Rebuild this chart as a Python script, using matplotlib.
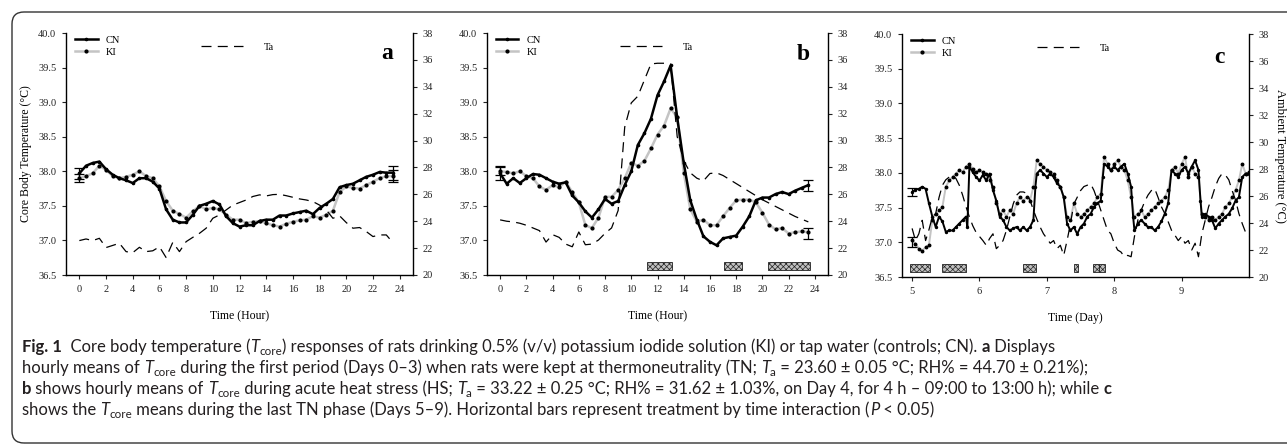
import numpy as np
import matplotlib
matplotlib.use('Agg')
import matplotlib.pyplot as plt
from matplotlib.lines import Line2D
from matplotlib.patches import FancyBboxPatch
from matplotlib.transforms import IdentityTransform
from matplotlib import font_manager

# ---------------- data ----------------
hours = np.arange(0, 24, 0.5)

cn_a = [37.97, 38.08, 38.12, 38.14, 38.03, 37.95, 37.90, 37.87, 37.83, 37.90, 37.90, 37.85,
        37.75, 37.45, 37.30, 37.26, 37.26, 37.37, 37.50, 37.53, 37.57, 37.52, 37.35, 37.25,
        37.20, 37.22, 37.22, 37.28, 37.30, 37.30, 37.36, 37.36, 37.39, 37.41, 37.43, 37.38,
        37.47, 37.53, 37.60, 37.77, 37.80, 37.82, 37.87, 37.92, 37.95, 37.99, 37.98, 37.98]
ki_a = [37.90, 37.93, 37.97, 38.08, 38.02, 37.93, 37.90, 37.92, 37.95, 38.00, 37.93, 37.90,
        37.78, 37.57, 37.43, 37.38, 37.33, 37.42, 37.50, 37.45, 37.47, 37.45, 37.37, 37.30,
        37.30, 37.25, 37.27, 37.28, 37.25, 37.22, 37.20, 37.24, 37.27, 37.29, 37.30, 37.35,
        37.33, 37.37, 37.43, 37.70, 37.78, 37.76, 37.75, 37.80, 37.85, 37.90, 37.93, 37.93]
ta_a = [22.56, 22.68, 22.56, 22.73, 22.04, 22.20, 22.36, 21.74, 21.66, 22.06, 21.74, 21.80,
        22.10, 21.30, 22.43, 21.74, 22.48, 22.80, 23.10, 23.48, 24.22, 24.47, 24.84, 25.20,
        25.39, 25.58, 25.84, 25.96, 25.88, 25.98, 26.00, 25.90, 25.78, 25.66, 25.58, 25.46,
        25.20, 24.84, 24.22, 24.40, 23.90, 23.48, 23.53, 23.23, 22.86, 22.98, 22.98, 22.40]

cn_b = [37.97, 37.82, 37.90, 37.83, 37.90, 37.96, 37.95, 37.90, 37.85, 37.82, 37.84, 37.65,
        37.55, 37.42, 37.33, 37.45, 37.60, 37.53, 37.57, 37.80, 38.00, 38.38, 38.55, 38.76,
        39.10, 39.30, 39.53, 38.78, 38.12, 37.58, 37.30, 37.06, 36.98, 36.93, 37.03, 37.05,
        37.07, 37.20, 37.35, 37.58, 37.62, 37.62, 37.67, 37.70, 37.67, 37.72, 37.76, 37.80]
ki_b = [38.00, 37.99, 37.97, 38.00, 37.93, 37.90, 37.78, 37.73, 37.80, 37.77, 37.85, 37.70,
        37.55, 37.22, 37.18, 37.33, 37.63, 37.63, 37.73, 37.90, 38.12, 38.08, 38.15, 38.33,
        38.53, 38.66, 38.91, 38.78, 37.98, 37.45, 37.27, 37.30, 37.22, 37.22, 37.35, 37.47,
        37.58, 37.59, 37.59, 37.55, 37.40, 37.23, 37.16, 37.18, 37.10, 37.12, 37.13, 37.12]
ta_b = [24.10, 24.00, 23.95, 23.85, 23.70, 23.50, 23.30, 22.45, 23.00, 22.80, 22.30, 22.10,
        23.20, 22.25, 22.30, 22.60, 23.10, 23.50, 24.80, 31.00, 32.80, 33.30, 34.50, 35.70,
        35.75, 35.75, 35.70, 30.30, 28.50, 27.60, 27.20, 27.00, 27.55, 27.60, 27.40, 27.10,
        26.80, 26.50, 26.20, 25.90, 25.60, 25.35, 25.10, 24.85, 24.60, 24.35, 24.15, 23.95]

days_cn_c = [5.00, 5.05, 5.10, 5.15, 5.20, 5.25, 5.30, 5.35, 5.40, 5.45, 5.50, 5.55, 5.60, 5.65,
             5.70, 5.75, 5.80, 5.82, 5.85, 5.90, 5.95,
             6.00, 6.05, 6.10, 6.15, 6.20, 6.25, 6.30, 6.35, 6.40, 6.45, 6.50, 6.55, 6.60, 6.65,
             6.70, 6.75, 6.80, 6.83, 6.85, 6.90, 6.95,
             7.00, 7.05, 7.10, 7.15, 7.20, 7.25, 7.30, 7.35, 7.40, 7.45, 7.50, 7.55, 7.60, 7.65,
             7.70, 7.75, 7.80, 7.83, 7.85, 7.90, 7.95,
             8.00, 8.05, 8.10, 8.15, 8.20, 8.25, 8.28, 8.30, 8.35, 8.40, 8.45, 8.50, 8.55, 8.60,
             8.65, 8.70, 8.75, 8.80, 8.85, 8.90, 8.95,
             9.00, 9.05, 9.10, 9.15, 9.20, 9.25, 9.28, 9.30, 9.35, 9.40, 9.45, 9.50, 9.55, 9.60,
             9.65, 9.70, 9.75, 9.80, 9.85, 9.90, 9.95, 10.00]
cn_c = [37.72, 37.76, 37.77, 37.80, 37.77, 37.56, 37.37, 37.22, 37.37, 37.30, 37.15, 37.17, 37.17, 37.22,
        37.27, 37.32, 37.37, 37.22, 38.09, 38.01, 37.94,
        37.89, 37.97, 37.89, 37.99, 37.75, 37.60, 37.37, 37.32, 37.22, 37.17, 37.20, 37.22, 37.17, 37.22,
        37.17, 37.22, 37.32, 37.80, 37.99, 38.04, 37.99,
        37.94, 37.99, 37.94, 37.85, 37.80, 37.65, 37.27, 37.17, 37.22, 37.12, 37.22, 37.27, 37.37, 37.41,
        37.51, 37.56, 37.60, 37.94, 38.13, 38.09, 38.04,
        38.09, 38.04, 38.09, 38.13, 37.99, 37.80, 37.37, 37.17, 37.27, 37.32, 37.27, 37.22, 37.22, 37.17,
        37.22, 37.30, 37.41, 37.56, 38.04, 37.99, 37.94,
        38.04, 38.09, 37.99, 38.09, 38.18, 38.04, 37.60, 37.37, 37.41, 37.37, 37.32, 37.20, 37.27, 37.32,
        37.37, 37.41, 37.49, 37.60, 37.65, 37.94, 37.99, 37.99]

days_c = np.round(np.arange(5.0, 10.0001, 0.05), 2)
ki_c = [37.03, 36.98, 36.91, 36.88, 36.93, 36.96, 37.32, 37.41, 37.46, 37.51, 37.80, 37.89, 37.94, 37.99, 38.04, 38.01, 38.09, 38.13, 38.06, 38.01,
        38.04, 38.01, 37.99, 37.89, 37.80, 37.56, 37.41, 37.46, 37.37, 37.46, 37.41, 37.56, 37.65, 37.60, 37.65, 37.60, 37.80, 38.18, 38.13, 38.09,
        38.04, 38.01, 37.99, 37.89, 37.80, 37.65, 37.37, 37.32, 37.56, 37.41, 37.37, 37.41, 37.46, 37.51, 37.56, 37.65, 37.70, 38.23, 38.13, 38.04,
        38.13, 38.18, 38.09, 38.04, 37.89, 37.65, 37.37, 37.41, 37.46, 37.37, 37.41, 37.46, 37.51, 37.56, 37.60, 37.65, 37.75, 38.04, 38.09, 37.99,
        38.13, 38.23, 37.94, 38.09, 37.99, 37.94, 37.41, 37.37, 37.32, 37.37, 37.32, 37.37, 37.41, 37.51, 37.56, 37.65, 37.75, 37.89, 38.13, 37.99,
        38.01]
ta_c = [23.60, 22.70, 23.20, 24.20, 22.70, 23.50, 24.45, 24.70, 25.90, 26.80, 27.20, 27.40, 27.50, 27.30, 26.80, 26.06, 25.20, 24.45, 23.80, 23.30,
        23.00, 22.70, 22.35, 22.85, 23.20, 22.10, 22.35, 22.70, 23.46, 24.45, 25.40, 26.06, 26.30, 26.30, 26.20, 25.70, 24.95, 24.30, 23.70, 23.20,
        22.85, 22.50, 22.70, 22.10, 22.35, 21.60, 22.70, 23.95, 25.40, 25.90, 26.40, 26.70, 26.80, 26.90, 26.40, 25.70, 24.95, 24.20, 23.46, 23.20,
        22.50, 22.00, 21.85, 21.50, 21.60, 21.50, 23.00, 24.20, 24.95, 25.56, 26.06, 26.40, 26.55, 25.90, 25.20, 24.70, 24.10, 23.46, 23.10, 22.70,
        23.00, 22.50, 22.70, 22.00, 22.50, 21.50, 23.20, 24.20, 25.20, 25.90, 26.70, 27.30, 27.66, 27.55, 27.20, 26.40, 25.70, 24.70, 23.95, 23.30,
        23.00]

# error bars (x, mean, sem)
err_a = dict(x=[0, 0, 23.5, 23.5], y=[37.97, 37.90, 37.98, 37.93], e=[0.08, 0.06, 0.10, 0.09])
err_b = dict(x=[0, 0, 23.5, 23.5], y=[37.97, 38.00, 37.80, 37.10], e=[0.10, 0.06, 0.08, 0.08])
err_c = dict(x=[5.0, 5.0], y=[37.72, 37.00], e=[0.06, 0.07])

# significance bars (start, end)
sig_b = [(11.23, 13.10), (17.06, 18.47), (20.45, 23.60)]
sig_c = [(4.97, 5.26), (5.44, 5.80), (6.64, 6.84), (7.41, 7.46), (7.69, 7.77), (7.78, 7.86)]

left_ticks = [36.5, 37.0, 37.5, 38.0, 38.5, 39.0, 39.5, 40.0]
right_ticks = [20, 22, 24, 26, 28, 30, 32, 34, 36, 38]

# ---------------- figure ----------------
W, H = 1287, 444
serif = ['Liberation Serif', 'DejaVu Serif']
plt.rcParams['font.family'] = serif
plt.rcParams['hatch.linewidth'] = 0.5
fig = plt.figure(figsize=(W / 100, H / 100), dpi=100)

names = {f.name for f in font_manager.fontManager.ttflist}
cap_font = None
for cand in ['Liberation Sans Narrow', 'Lato', 'Roboto', 'DejaVu Sans']:
    if cand in names:
        cap_font = cand
        break

CN_COLOR = 'black'
KI_COLOR = '#c4c4c4'
TICK_FS = 7.5


def make_panel(rect, x, cn, ki, ta, err, sig, xlim, xticks, xlabel, letter, letter_pos,
               x_cn=None, lw=1.8, ms=2.0):
    ax = fig.add_axes(rect)
    if x_cn is None:
        x_cn = x
    ax.plot(x, ki, color=KI_COLOR, lw=lw, marker='o', ms=ms, mfc='black', mec='black', zorder=3)
    ax.plot(x_cn, cn, color=CN_COLOR, lw=lw, marker='o', ms=ms * 0.8, zorder=4)
    ax.errorbar(err['x'], err['y'], yerr=err['e'], fmt='none', ecolor='black',
                elinewidth=0.9, capsize=3.5, capthick=0.9, zorder=5)
    if sig:
        starts = [s for s, e in sig]
        widths = [e - s for s, e in sig]
        ax.bar(starts, [0.11] * len(sig), width=widths, bottom=36.575, align='edge',
               facecolor='#c0c0c0', edgecolor='#222222', hatch='xxxxxx', lw=0.6, zorder=2)
    ax.set_xlim(*xlim)
    ax.set_ylim(36.5, 40.0)
    ax.set_xticks(xticks)
    ax.set_yticks(left_ticks)
    ax.set_yticklabels([f'{v:.1f}' for v in left_ticks])
    ax.set_xlabel(xlabel, fontsize=8.5, labelpad=12)
    for s in ['top', 'right']:
        ax.spines[s].set_visible(False)
    for s in ['left', 'bottom']:
        ax.spines[s].set_linewidth(1.0)
    ax.tick_params(direction='out', length=3, width=0.8, labelsize=TICK_FS, pad=4, colors='#222222')

    ax2 = ax.twinx()
    ax2.plot(x, ta, color='black', lw=0.9, ls=(0, (8, 5)), zorder=2)
    ax2.set_ylim(20, 38)
    ax2.set_yticks(right_ticks)
    for s in ['top', 'left', 'bottom']:
        ax2.spines[s].set_visible(False)
    ax2.spines['right'].set_linewidth(1.0)
    ax2.tick_params(direction='out', length=3, width=0.8, labelsize=TICK_FS, pad=4, colors='#222222')

    h_cn = Line2D([], [], color=CN_COLOR, lw=1.8, marker='o', ms=1.6)
    h_ki = Line2D([], [], color=KI_COLOR, lw=1.8, marker='o', ms=2.0, mfc='black', mec='black')
    leg = ax2.legend([h_cn, h_ki], ['CN', 'KI'], loc='upper left', bbox_to_anchor=(0.025, 0.99),
                     frameon=False, fontsize=7.5, handlelength=2.2, labelspacing=0.3,
                     handletextpad=0.8, borderaxespad=0, borderpad=0)
    ax2.add_artist(leg)
    h_ta = Line2D([], [], color='black', lw=0.9, ls=(0, (8, 5)))
    ax2.legend([h_ta], ['Ta'], loc='upper left', bbox_to_anchor=(0.39, 0.96), frameon=False,
               fontsize=7.5, handlelength=4.0, handletextpad=2.0, borderaxespad=0, borderpad=0)
    ax.text(letter_pos[0], letter_pos[1], letter, transform=ax.transAxes, fontsize=17,
            fontweight='bold', ha='center', va='center')
    return ax, ax2


ax_a, ax2_a = make_panel([66 / W, 1 - 275 / H, 347 / W, 242 / H], hours, cn_a, ki_a, ta_a, err_a, None,
                         (-1, 25), list(range(0, 25, 2)), 'Time (Hour)', 'a', (0.925, 0.917))
ax_a.set_ylabel('Core Body Temperature (°C)', fontsize=8.5, labelpad=4)

ax_b, ax2_b = make_panel([487 / W, 1 - 275 / H, 341 / W, 242 / H], hours, cn_b, ki_b, ta_b, err_b, sig_b,
                         (-1, 25), list(range(0, 25, 2)), 'Time (Hour)', 'b', (0.927, 0.913))

ax_c, ax2_c = make_panel([902 / W, 1 - 277 / H, 347 / W, 243 / H], days_c, cn_c, ki_c, ta_c, err_c, sig_c,
                         (4.85, 10.0), [5, 6, 7, 8, 9], 'Time (Day)', 'c', (0.916, 0.905),
                         x_cn=days_cn_c, lw=1.4, ms=1.8)
ax_c.xaxis.labelpad = 12
ax2_c.set_ylabel('Ambient Temperature (°C)', fontsize=9, rotation=270, labelpad=12)

# ---------------- border ----------------
box = FancyBboxPatch((12, 1), 1300, 431, boxstyle='round,pad=0,rounding_size=12',
                     transform=IdentityTransform(), fill=False, edgecolor='#333333', lw=1.0)
fig.patches.append(box)

# ---------------- caption ----------------
fig.canvas.draw()
renderer = fig.canvas.get_renderer()
CAP_COLOR = '#231f20'


def seg_width(text, **kw):
    t1 = fig.text(0, 0, '|' + text + '|', transform=IdentityTransform(), **kw)
    t2 = fig.text(0, 0, '||', transform=IdentityTransform(), **kw)
    w = t1.get_window_extent(renderer).width - t2.get_window_extent(renderer).width
    t1.remove()
    t2.remove()
    return w


def seg_kw(st, size):
    kw = dict(family=[cap_font, 'DejaVu Sans'], color=CAP_COLOR, va='baseline', ha='left')
    dy = 0
    if st == 'b':
        kw.update(fontsize=size, fontweight='bold')
    elif st == 'i':
        kw.update(fontsize=size, fontstyle='italic')
    elif st == 'sub':
        kw.update(fontsize=size * 0.7)
        dy = -3
    else:
        kw.update(fontsize=size)
    return kw, dy


def line_width(segs, size):
    return sum(seg_width(t, **seg_kw(st, size)[0]) for t, st in segs)


def draw_line(x, y_top, segs, size):
    y = H - y_top
    for text, st in segs:
        kw, dy = seg_kw(st, size)
        w = seg_width(text, **kw)
        fig.text(x, y + dy, text, transform=IdentityTransform(), **kw)
        x += w


lines = [
    [('Fig. 1', 'b'), ('  Core body temperature (', 'r'), ('T', 'i'), ('core', 'sub'),
     (') responses of rats drinking 0.5% (v/v) potassium iodide solution (KI) or tap water (controls; CN). ', 'r'),
     ('a', 'b'), (' Displays', 'r')],
    [('hourly means of ', 'r'), ('T', 'i'), ('core', 'sub'),
     (' during the first period (Days 0–3) when rats were kept at thermoneutrality (TN; ', 'r'),
     ('T', 'i'), ('a', 'sub'), (' = 23.60 ± 0.05 °C; RH% = 44.70 ± 0.21%);', 'r')],
    [('b', 'b'), (' shows hourly means of ', 'r'), ('T', 'i'), ('core', 'sub'),
     (' during acute heat stress (HS; ', 'r'), ('T', 'i'), ('a', 'sub'),
     (' = 33.22 ± 0.25 °C; RH% = 31.62 ± 1.03%, on Day 4, for 4 h – 09:00 to 13:00 h); while ', 'r'),
     ('c', 'b')],
    [('shows the ', 'r'), ('T', 'i'), ('core', 'sub'),
     (' means during the last TN phase (Days 5–9). Horizontal bars represent treatment by time interaction (', 'r'),
     ('P', 'i'), (' < 0.05)', 'r')],
]
# pick font size so that the first caption line spans the same width as in the reference
base = 10.0
target = 1060 - 22
cap_size = base * target / line_width(lines[0], base)

baselines = [352, 373, 394, 415]
for yb, segs in zip(baselines, lines):
    draw_line(22, yb, segs, cap_size)

fig.savefig('out.png', dpi=100)
